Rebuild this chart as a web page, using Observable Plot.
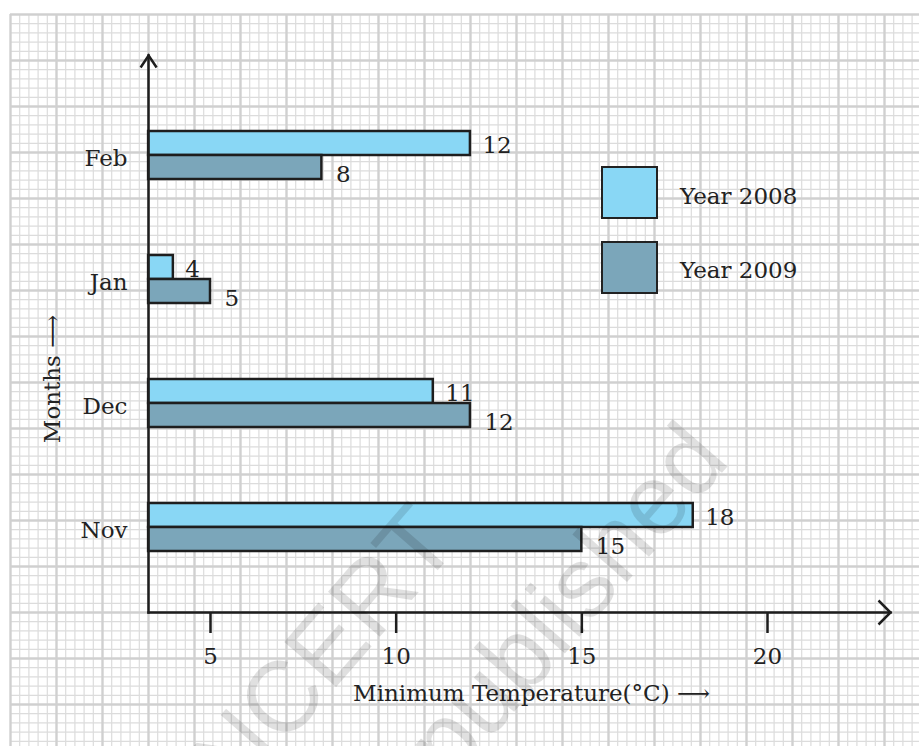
<!DOCTYPE html>
<html>
<head>
<meta charset="utf-8">
<script src="https://cdn.jsdelivr.net/npm/d3@7"></script>
<script src="https://cdn.jsdelivr.net/npm/@observablehq/plot@0.6"></script>
<style>
  html, body { margin: 0; padding: 0; background: #fff; }
  #wrap { position: relative; width: 919px; height: 746px; overflow: hidden; font-family: "DejaVu Serif", serif; color: #222; }
  #wrap svg { position: absolute; left: 0; top: 0; }
  .swatch { position: absolute; box-sizing: border-box; border: 2.5px solid #222; }
  .ltext { position: absolute; font-family: "DejaVu Serif", serif; font-size: 23px; color: #222; line-height: 1; white-space: nowrap; transform: translateY(-50%); }
  .wm { position: absolute; color: rgba(0,0,0,0.12); font-family: "Liberation Sans", Arial, sans-serif; font-size: 100px; line-height: 1; white-space: nowrap; transform: translate(-50%,-50%) rotate(-49deg); pointer-events: none; }
</style>
</head>
<body>
<div id="wrap"></div>
<script>
// ---- data ----
const months = ["Feb", "Jan", "Dec", "Nov"];
const years = ["2008", "2009"];
const temp2008 = [12, 4, 11, 18];
const temp2009 = [8, 5, 12, 15];
const xTicks = [5, 10, 15, 20];
const legendLabels = ["Year 2008", "Year 2009"];
const yearColors = ["#89D7F5", "#7BA6BA"];
const xTitle = "Minimum Temperature(°C) ⟶";
const yTitle = "Months ⟶";

const rows = months.flatMap((m, i) => [
  {month: m, year: years[0], value: temp2008[i]},
  {month: m, year: years[1], value: temp2009[i]}
]);
const axisOrigin = 10 / 3; // x value where the vertical axis sits

const wrap = document.getElementById("wrap");

// ---- graph-paper background ----
const minorX = d3.range(0, 100).map(i => 10 + i * 9.2).filter(v => v <= 919);
const minorY = d3.range(0, 100).map(i => 14 + i * 9.2).filter(v => v <= 746);
const bg = Plot.plot({
  width: 919, height: 746, margin: 0,
  style: {background: "#fff"},
  x: {domain: [0, 919], range: [0, 919], axis: null},
  y: {domain: [0, 746], range: [0, 746], axis: null},
  marks: [
    Plot.ruleX(minorX.filter((d, i) => i % 5 !== 0), {y1: 14, y2: 746, stroke: "#dcdcdc", strokeWidth: 1.2}),
    Plot.ruleY(minorY.filter((d, i) => i % 5 !== 0), {x1: 10, x2: 919, stroke: "#dcdcdc", strokeWidth: 1.2}),
    Plot.ruleX(minorX.filter((d, i) => i % 5 === 0), {y1: 14, y2: 746, stroke: "#d0d0d0", strokeWidth: 2.4}),
    Plot.ruleY(minorY.filter((d, i) => i % 5 === 0), {x1: 10, x2: 919, stroke: "#d0d0d0", strokeWidth: 2.4})
  ]
});
wrap.appendChild(bg);

// ---- arrowhead symbols ----
const chevronUp = {draw(ctx) { ctx.moveTo(-8, 12); ctx.lineTo(0, 0); ctx.lineTo(8, 12); }};
const chevronRight = {draw(ctx) { ctx.moveTo(-12, -12); ctx.lineTo(0, 0); ctx.lineTo(-12, 12); }};

// ---- chart ----
const ink = "#1e1e1e";
const fs = 23;
const chart = Plot.plot({
  width: 919, height: 746,
  marginLeft: 148, marginRight: 29, marginTop: 55, marginBottom: 134,
  style: {background: "transparent", fontFamily: "DejaVu Serif, serif", fontSize: fs + "px", color: "#222", overflow: "visible"},
  x: {domain: [5, 20], range: [210, 767]},
  y: {domain: months, range: [93, 589], paddingInner: 0.613, paddingOuter: 0.3065},
  marks: [
    Plot.barX(rows.filter(d => d.year === years[0]), {x1: () => axisOrigin, x2: "value", y: "month", fill: yearColors[0], stroke: ink, strokeWidth: 2.5, insetBottom: 24}),
    Plot.barX(rows.filter(d => d.year === years[1]), {x1: () => axisOrigin, x2: "value", y: "month", fill: yearColors[1], stroke: ink, strokeWidth: 2.5, insetTop: 24}),
    Plot.text(rows.filter(d => d.year === years[0]), {x: "value", y: "month", text: "value", textAnchor: "start", dx: 12, dy: -10, fill: "#222", fontSize: fs}),
    Plot.text(rows.filter(d => d.year === years[1]), {x: "value", y: "month", text: "value", textAnchor: "start", dx: 14, dy: 19, fill: "#222", fontSize: fs}),
    Plot.frame({anchor: "bottom", stroke: ink, strokeWidth: 2.5}),
    Plot.frame({anchor: "left", stroke: ink, strokeWidth: 2.5}),
    Plot.dot([null], {x: () => axisOrigin, frameAnchor: "top", symbol: chevronUp, fill: "none", stroke: ink, strokeWidth: 2.5}),
    Plot.dot([null], {frameAnchor: "bottom-right", symbol: chevronRight, fill: "none", stroke: ink, strokeWidth: 2.5}),
    Plot.axisX({ticks: xTicks, tickSize: 21, tickPadding: 14, tickFormat: d => String(d), label: null, stroke: ink, strokeWidth: 2.5, fontSize: fs}),
    Plot.axisY({tickSize: 0, tickPadding: 21, label: null, dy: 3, fontSize: fs}),
    Plot.text([yTitle], {frameAnchor: "left", textAnchor: "middle", rotate: -90, dx: -96, dy: 45, fontSize: fs, fill: "#222"}),
    Plot.text([xTitle], {frameAnchor: "bottom", textAnchor: "middle", dx: 12, dy: 88, fontSize: fs, fill: "#222"})
  ]
});
wrap.appendChild(chart);

// ---- legend ----
legendLabels.forEach((lab, i) => {
  const sw = document.createElement("div");
  sw.className = "swatch";
  sw.style.left = "601px";
  sw.style.top = (166 + i * 75) + "px";
  sw.style.width = "57px";
  sw.style.height = "53px";
  sw.style.background = yearColors[i];
  wrap.appendChild(sw);
  const t = document.createElement("div");
  t.className = "ltext";
  t.style.left = "680px";
  t.style.top = (196 + i * 74) + "px";
  t.textContent = lab;
  wrap.appendChild(t);
});

// ---- watermark ----
[["NCERT", 322, 650], ["published", 565, 600]].forEach(([s, x, y]) => {
  const w = document.createElement("div");
  w.className = "wm";
  w.style.left = x + "px";
  w.style.top = y + "px";
  w.textContent = s;
  wrap.appendChild(w);
});
</script>
</body>
</html>
